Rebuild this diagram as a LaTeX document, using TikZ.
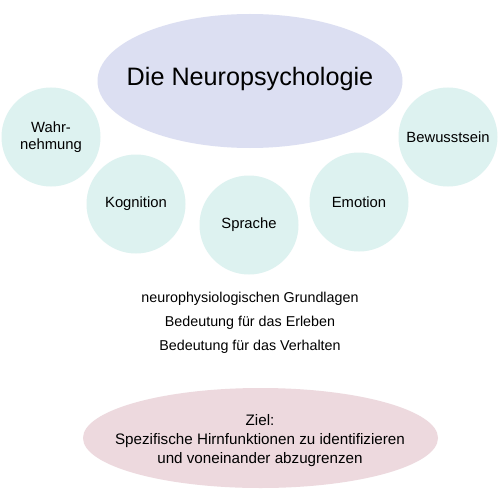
\documentclass[tikz,border=0pt]{standalone}
\usepackage{fontspec}
\setmainfont{Liberation Sans}
\definecolor{topfill}{HTML}{DCDFF2}
\definecolor{circfill}{HTML}{DDF2F0}
\definecolor{botfill}{HTML}{EDD9DE}
\begin{document}
\begin{tikzpicture}[x=1pt,y=-1pt,
  circ/.style={circle,fill=circfill,minimum size=99pt,inner sep=0pt,align=center,font=\fontsize{14.8}{17}\selectfont},
  txt/.style={font=\fontsize{14.3}{17}\selectfont}]
\useasboundingbox[fill=white] (0,0) rectangle (500,500);
\fill[topfill] (250,81) ellipse [x radius=152.5, y radius=67];
\node[font=\fontsize{25.2}{28}\selectfont] (top) at (250,79) {Die Neuropsychologie};
\node[circ] (wahr) at (51,137) {Wahr-\\nehmung};
\node[circ] (kog) at (136,204) {Kognition};
\node[circ] (spr) at (249,225) {Sprache};
\node[circ] (emo) at (359,202) {Emotion};
\node[circ] (bew) at (448,137) {Bewusstsein};
\node[txt] (l1) at (250,299) {neurophysiologischen Grundlagen};
\node[txt] (l2) at (250,323) {Bedeutung für das Erleben};
\node[txt] (l3) at (250,347) {Bedeutung für das Verhalten};
\fill[botfill] (260.5,438) ellipse [x radius=177.5, y radius=50];
\node[align=center,font=\fontsize{15.2}{19}\selectfont] (ziel) at (260,441) {Ziel:\\Spezifische Hirnfunktionen zu identifizieren\\und voneinander abzugrenzen};
\end{tikzpicture}
\end{document}
